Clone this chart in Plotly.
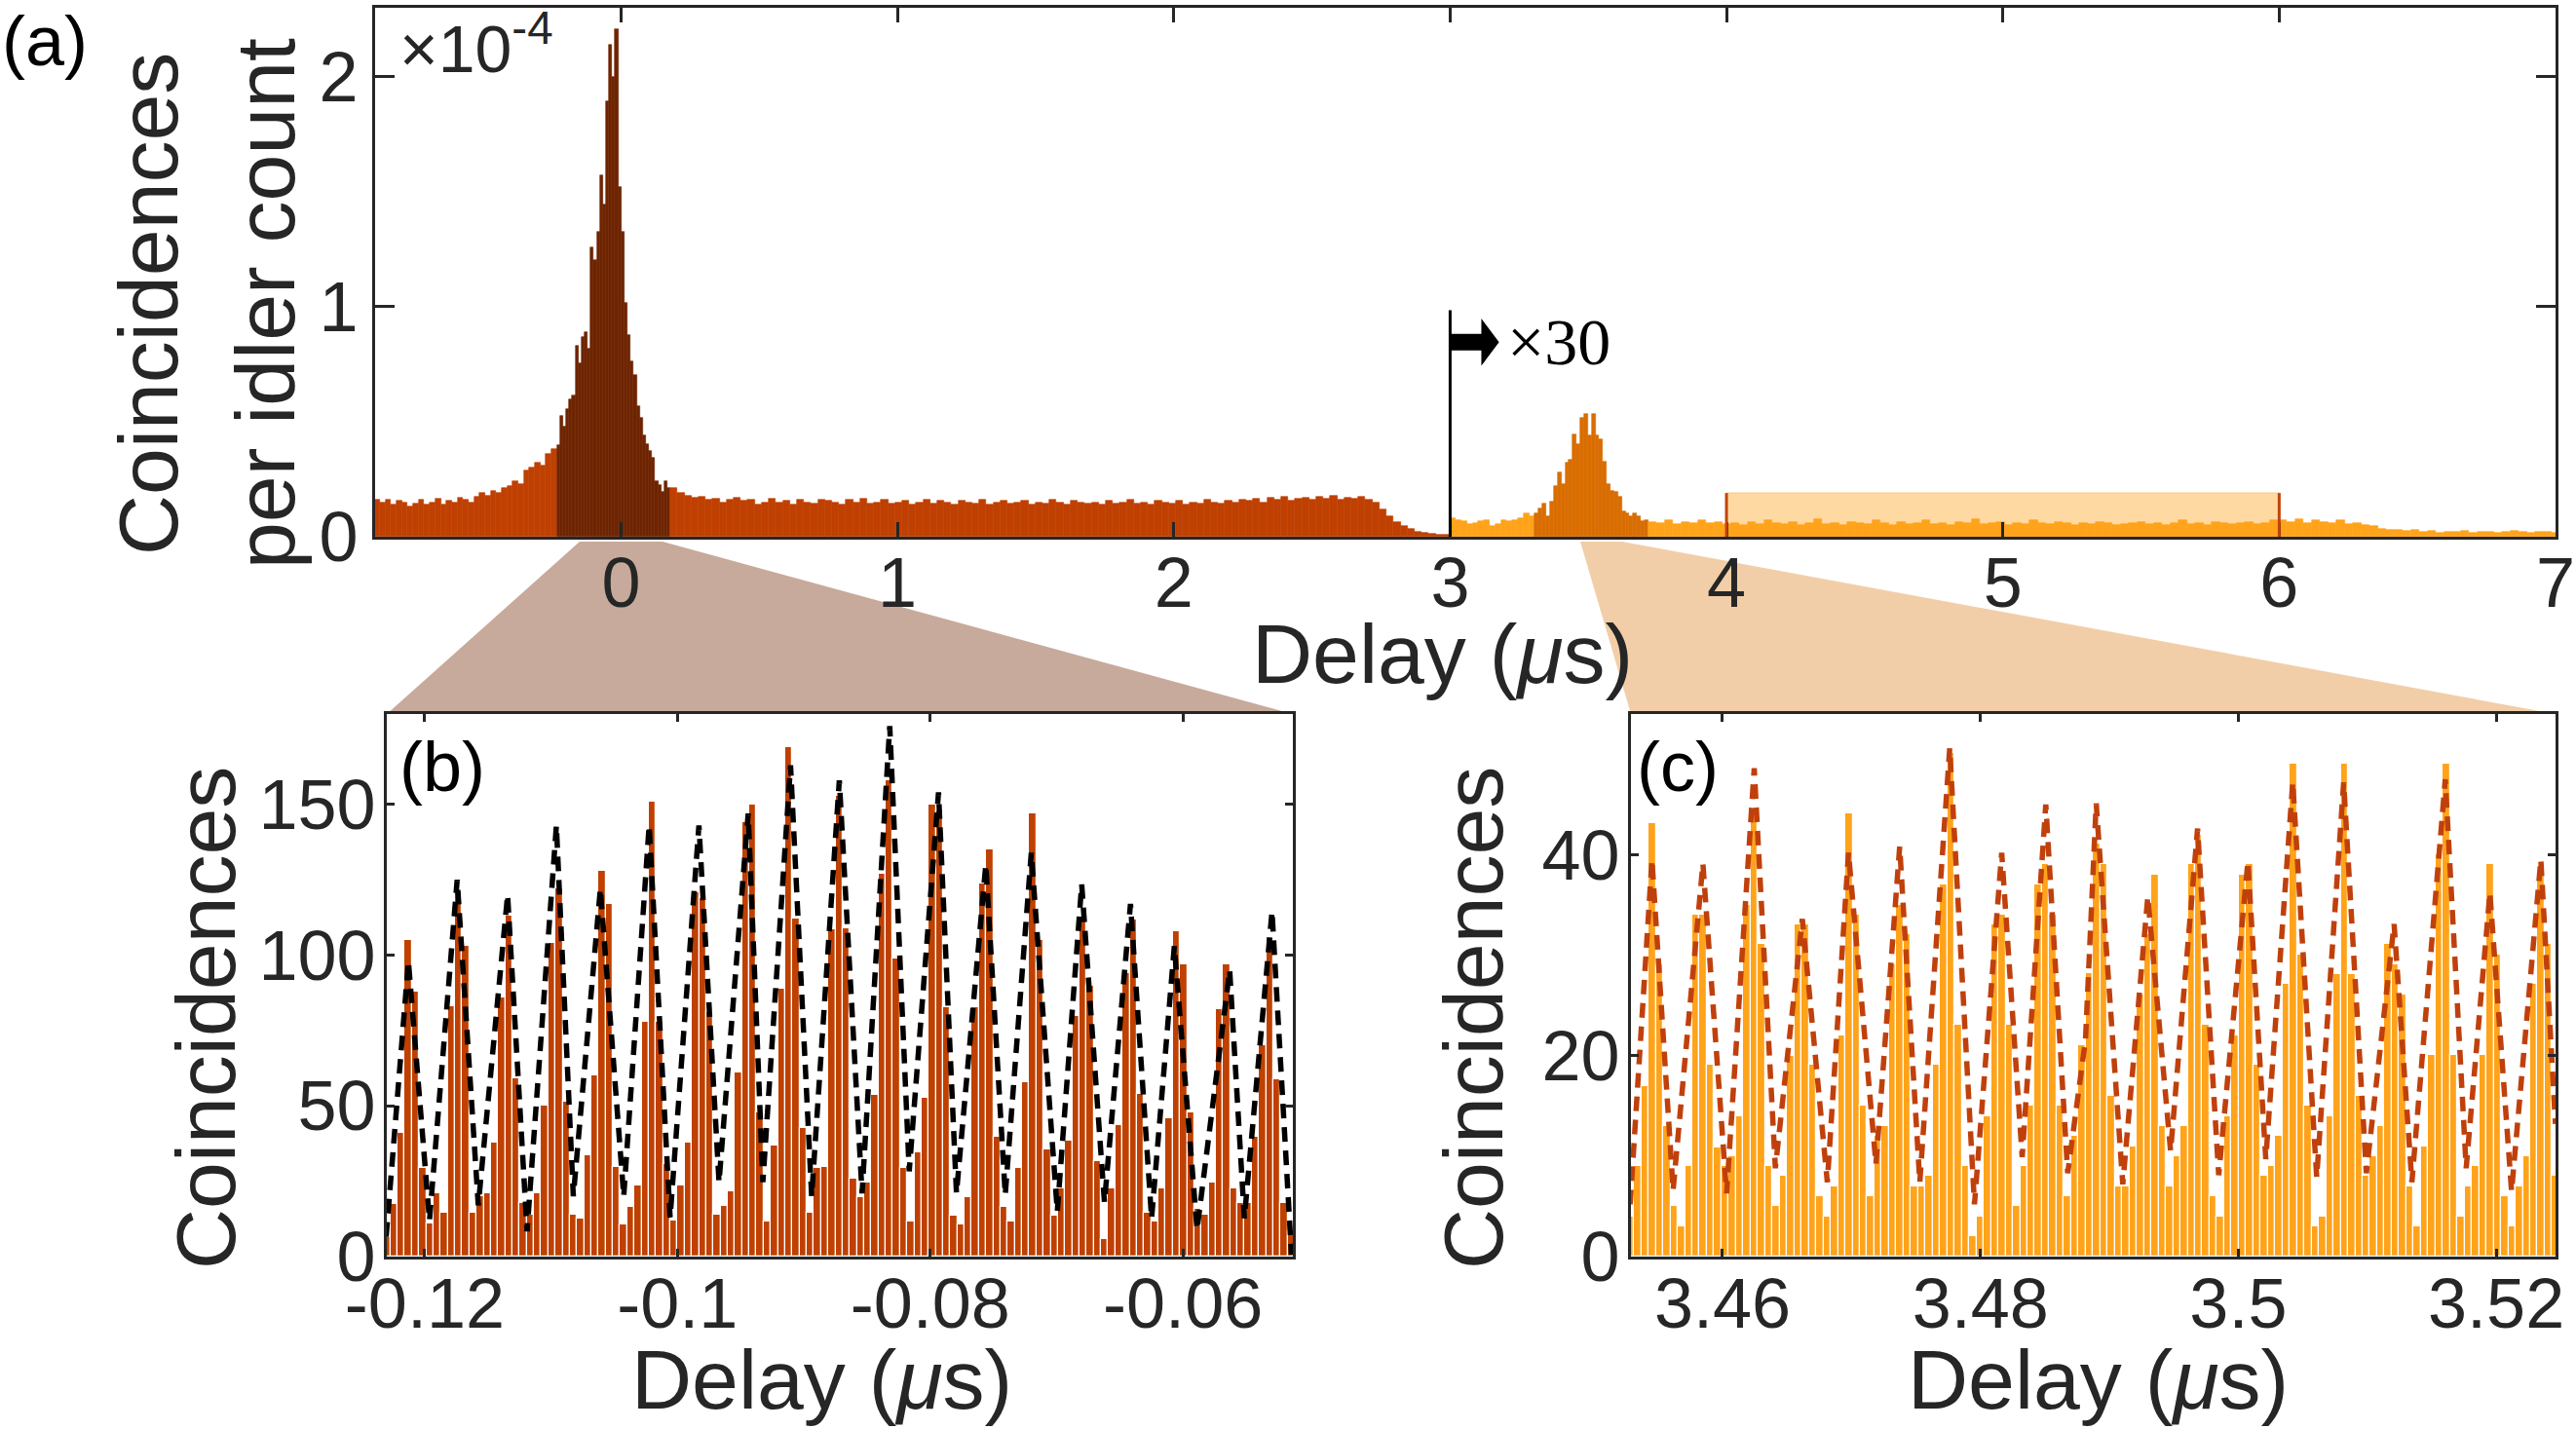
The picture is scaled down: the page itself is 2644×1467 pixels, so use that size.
import numpy as np
import plotly.graph_objects as go

# ---------------- DATA ----------------
# Panel (a): coincidences per idler count (units of 1e-4), histogram segments
a_left_start, a_left_bin = -0.892, 0.02
a_left_vals = [0.16, 0.15, 0.16, 0.14, 0.155, 0.15, 0.13, 0.145, 0.16, 0.14,
               0.15, 0.165, 0.14, 0.155, 0.15, 0.17, 0.16, 0.15, 0.175, 0.19,
               0.18, 0.20, 0.19, 0.21, 0.22, 0.24, 0.23, 0.29, 0.30, 0.32,
               0.31, 0.36, 0.38]

a_peak_start, a_peak_bin = -0.232, 0.0111
a_peak_vals = [0.397, 0.524, 0.479, 0.554, 0.599, 0.614, 0.831, 0.756, 0.868, 0.891,
               0.816, 1.257, 1.205, 1.325, 1.572, 1.445, 1.894, 2.141, 1.999, 2.208,
               1.519, 1.325, 1.018, 0.876, 0.763, 0.704, 0.569, 0.516, 0.442, 0.404,
               0.374, 0.344, 0.240, 0.225, 0.195, 0.240, 0.210]

a_right_start, a_right_bin = 0.179, 0.0254
a_right_vals = [0.21, 0.19, 0.18, 0.17, 0.175, 0.16, 0.165, 0.15, 0.16, 0.17,
                0.155, 0.16, 0.14, 0.15, 0.165, 0.15, 0.155, 0.14, 0.16, 0.15,
                0.145, 0.16, 0.155, 0.15, 0.14, 0.16, 0.15, 0.165, 0.145, 0.15,
                0.16, 0.145, 0.15, 0.155, 0.14, 0.15, 0.16, 0.145, 0.155, 0.15,
                0.14, 0.155, 0.15, 0.145, 0.16, 0.14, 0.15, 0.155, 0.145, 0.15,
                0.155, 0.14, 0.15, 0.145, 0.16, 0.15, 0.14, 0.155, 0.15, 0.145,
                0.15, 0.14, 0.155, 0.145, 0.15, 0.16, 0.145, 0.15, 0.14, 0.155,
                0.15, 0.145, 0.155, 0.14, 0.15, 0.145, 0.16, 0.15, 0.145, 0.155,
                0.15, 0.16, 0.155, 0.165, 0.15, 0.17, 0.16, 0.175, 0.155, 0.165,
                0.17, 0.16, 0.175, 0.165, 0.18, 0.16, 0.17, 0.165, 0.175, 0.16,
                0.15, 0.12, 0.09, 0.065, 0.045, 0.032, 0.022, 0.015, 0.012, 0.01, 0.008]

# after 3 us the signal is multiplied by 30
a_x30_left_start, a_x30_left_bin = 3.0, 0.02047
a_x30_left_vals = [0.081, 0.074, 0.067, 0.053, 0.060, 0.067, 0.074, 0.046, 0.053, 0.074,
                   0.067, 0.074, 0.081, 0.102, 0.088]

a_x30_peak_start, a_x30_peak_bin = 3.307, 0.01367
a_x30_peak_vals = [0.102, 0.123, 0.144, 0.088, 0.152, 0.222, 0.281, 0.229, 0.320, 0.334,
                   0.446, 0.404, 0.517, 0.535, 0.439, 0.535, 0.439, 0.425, 0.327, 0.229,
                   0.200, 0.194, 0.173, 0.109, 0.102, 0.088, 0.100, 0.088, 0.067, 0.074]

a_x30_right_start, a_x30_right_bin = 3.717, 0.03
a_x30_right_vals = [0.065, 0.06, 0.07, 0.055, 0.065, 0.06, 0.07, 0.06, 0.065,
                    0.055, 0.06, 0.05, 0.065, 0.055, 0.07, 0.06, 0.055, 0.065, 0.05,
                    0.06, 0.075, 0.055, 0.06, 0.05, 0.065, 0.06, 0.055, 0.07, 0.06,
                    0.05, 0.065, 0.055, 0.06, 0.07, 0.055, 0.06, 0.05, 0.065, 0.06,
                    0.075, 0.055, 0.06, 0.065, 0.05, 0.06, 0.055, 0.07, 0.06, 0.055,
                    0.065, 0.06, 0.05, 0.06, 0.055, 0.065, 0.06, 0.05, 0.055, 0.06,
                    0.065, 0.055, 0.06, 0.05, 0.06, 0.07, 0.055, 0.06, 0.05, 0.065,
                    0.06, 0.055, 0.06, 0.065, 0.055, 0.06, 0.07,
                    0.07, 0.065, 0.075, 0.06, 0.07, 0.065, 0.06, 0.07, 0.055, 0.06, 0.05, 0.045,
                    0.035, 0.03, 0.028, 0.025, 0.03,
                    0.02, 0.025, 0.018, 0.022, 0.02, 0.025, 0.018, 0.02, 0.022, 0.018,
                    0.02, 0.025, 0.02, 0.018, 0.022, 0.02, 0.018]

a_window = [4.0, 6.0]       # highlighted background window (us)
a_window_height = 0.19
a_scale_start = 3.0
a_scale_marker_top = 0.985

# Panel (b): coincidences near zero delay
b_start, b_bin = -0.12328, 0.000568
b_counts = [6.6,
            17.5, 41, 105, 88, 29.5, 11, 21, 14.7, 83, 121,
            103, 14.7, 20, 21, 37.7, 86, 113, 59, 17.7, 13.9,
            21, 50, 104, 122, 51.4, 13.9, 12.7, 33.7, 60, 128,
            117, 29.8, 10.8, 16.6, 23.7, 78, 151, 78, 30.7, 11.8,
            23.7, 37.7, 121, 119, 81, 13.9, 16.9, 21.7, 61, 144,
            150, 47.8, 11.7, 36.7, 89, 169, 112, 42.8, 14.7, 29.5,
            29.8, 108.6, 153, 109,
            25.7, 19.6, 24.7, 53.6, 127, 158, 98.8, 29.5, 11.7, 34.6,
            52.7, 150, 148, 82.8, 13.6, 10.6, 19.6, 82.8, 123.7, 135,
            39.8, 16.5, 11.7, 29.5, 57.8, 147, 105, 35.5, 13.6, 22.5,
            38.6, 79.8, 111.7, 89.8, 31.6, 5.7, 22.5, 43.7, 94, 111.7,
            53.9, 14.5, 11.7, 22.5, 45.8, 107.8, 97, 47.8, 15.7, 13.9,
            24.7, 82, 97, 22.5, 17.7, 17.7, 39.8, 70, 106, 58.8,
            17.7, 8.4]
b_fit_x = [-0.12305, -0.12129, -0.11962, -0.11743, -0.11576, -0.11344, -0.11190, -0.10958,
           -0.10824, -0.10610, -0.10425, -0.10224, -0.10058, -0.09830, -0.09671, -0.09440,
           -0.09324, -0.09105, -0.08938, -0.08719, -0.08539, -0.08320, -0.08166, -0.07934,
           -0.07792, -0.07560, -0.07406, -0.07200, -0.06994, -0.06801, -0.06621, -0.06415,
           -0.06248, -0.06068, -0.05888, -0.05630, -0.05514, -0.05295, -0.05141]
b_fit_y = [6.6, 98, 12, 125, 17, 120, 8.4, 143,
           20, 122, 20, 143, 13, 143, 24.7, 147,
           24.7, 163, 20, 158, 21, 176, 28.3, 154,
           21, 130, 20.5, 134, 15, 123.5, 18, 117,
           12.7, 103, 9, 95, 12.7, 114.5, 0.6]

# Panel (c): coincidences near 3.5 us delay
c_start, c_bin = 3.452575, 0.000565
c_counts = [4.0,
            9.0, 17.0, 43.1, 29.1, 13.0, 5.0, 3.0, 9.0, 34.0, 34.0,
            19.1, 10.9, 9.0, 10.0, 14.0, 35.0, 44.1, 31.1, 9.0, 5.0,
            8.0, 20.0, 33.1, 33.1, 19.1, 6.0, 4.0, 7.0, 22.0, 44.1,
            34.0, 15.0, 6.0, 12.0, 13.0, 29.1, 35.0, 32.1, 7.0, 7.0,
            8.0, 19.1, 37.0, 50.1, 23.1, 9.0, 2.0, 4.0, 14.0, 33.1,
            34.0, 23.1, 5.0, 9.0, 15.0, 37.0, 39.1, 34.0, 15.0, 6.0,
            12.0, 21.0,
            28.2, 41.1, 39.1, 16.0, 7.0, 7.0, 11.0, 26.1, 32.1, 38.0,
            13.0, 7.0, 10.0, 13.0, 39.1, 42.0, 23.1, 6.0, 4.0, 14.0,
            22.0, 38.0, 39.1, 19.1, 8.0, 9.0, 12.0, 27.1, 49.1, 30.1,
            15.0, 3.0, 4.0, 14.0, 28.1, 49.1, 28.1, 16.0, 8.0, 10.0,
            13.0, 31.1, 29.1, 26.1, 7.0, 3.0, 11.0, 20.1, 40.0, 49.1,
            20.1, 4.0, 7.0, 9.0, 20.1, 39.1, 30.1, 6.0, 3.0, 7.0,
            10.0, 27.1, 38.0, 31.1,
            8.0]
c_fit_x = [3.45284, 3.45453, 3.45617, 3.45848, 3.46032, 3.46246, 3.46410, 3.46619,
           3.46813, 3.46977, 3.47190, 3.47374, 3.47530, 3.47762, 3.47954, 3.48165,
           3.48324, 3.48507, 3.48677, 3.48815, 3.48898, 3.49104, 3.49298, 3.49475,
           3.49684, 3.49848, 3.50074, 3.50213, 3.50422, 3.50608, 3.50817, 3.50993,
           3.51208, 3.51346, 3.51605, 3.51767, 3.51951, 3.52119, 3.52346, 3.52459]
c_fit_y = [5.2, 39.5, 6.6, 39.1, 6.3, 48.6, 8.8, 33.6,
           7.4, 40.2, 9.2, 40.8, 7.4, 50.6, 5.2, 40.2,
           9.9, 45.0, 8.3, 21.6, 45.1, 7.2, 35.8, 10.5,
           42.6, 8.1, 39.3, 9.7, 47.2, 7.9, 47.2, 8.3,
           33.1, 7.4, 47.5, 8.8, 36.2, 6.5, 39.5, 13.2]

a_xticks = [0, 1, 2, 3, 4, 5, 6, 7]
a_yticks = [0, 1, 2]
b_xticks = [-0.12, -0.1, -0.08, -0.06]
b_xticktext = ["-0.12", "-0.1", "-0.08", "-0.06"]
b_yticks = [0, 50, 100, 150]
c_xticks = [3.46, 3.48, 3.5, 3.52]
c_xticktext = ["3.46", "3.48", "3.5", "3.52"]
c_yticks = [0, 20, 40]

# ---------------- STYLE ----------------
W, H = 2644, 1467
FONT = "Liberation Sans, Arial, sans-serif"
TICK_FONT = "Liberation Sans Narrow, Arial Narrow, Liberation Sans, sans-serif"
AX = "#262626"
BROWN = "#BF4000"
BROWN_DARK = "#6E2400"
ORANGE = "#FFA31A"
ORANGE_DARK = "#D96D00"
FIT_C = "#C0400C"
TICK_FS = 72
TITLE_FS = 86


def px(x):
    return x / W


def py(y):
    return 1 - y / H


def centers(start, binw, n):
    return start + binw * (np.arange(n) + 0.5)


fig = go.Figure()


def add_hist(start, binw, vals, color, xa, ya, line_color=None, line_w=0.6):
    fig.add_trace(go.Bar(
        x=centers(start, binw, len(vals)), y=vals, width=binw,
        marker=dict(color=color, line=dict(color=line_color or color, width=line_w)),
        xaxis=xa, yaxis=ya, showlegend=False, hoverinfo="skip"))


# panel (a)
add_hist(a_left_start, a_left_bin, a_left_vals, BROWN, "x", "y")
add_hist(a_peak_start, a_peak_bin, a_peak_vals, BROWN_DARK, "x", "y")
add_hist(a_right_start, a_right_bin, a_right_vals, BROWN, "x", "y")
add_hist(a_x30_left_start, a_x30_left_bin, a_x30_left_vals, ORANGE, "x", "y")
add_hist(a_x30_peak_start, a_x30_peak_bin, a_x30_peak_vals, ORANGE_DARK, "x", "y")
add_hist(a_x30_right_start, a_x30_right_bin, a_x30_right_vals, ORANGE, "x", "y")

# panel (b)
add_hist(b_start, b_bin, b_counts, BROWN, "x2", "y2", line_color="white", line_w=1.2)
fig.add_trace(go.Scatter(x=b_fit_x, y=b_fit_y, mode="lines",
                         line=dict(color="black", width=5.5, dash="15px,9px"),
                         xaxis="x2", yaxis="y2", showlegend=False, hoverinfo="skip"))

# panel (c)
add_hist(c_start, c_bin, c_counts, ORANGE, "x3", "y3", line_color="white", line_w=1.2)
fig.add_trace(go.Scatter(x=c_fit_x, y=c_fit_y, mode="lines",
                         line=dict(color=FIT_C, width=5.5, dash="15px,9px"),
                         xaxis="x3", yaxis="y3", showlegend=False, hoverinfo="skip"))


def axis(domain, rng, tickvals, ticktext=None, ticklen=10, anchor=None, standoff=0):
    d = dict(domain=domain, range=rng, tickvals=tickvals, automargin=False,
             ticks="inside", ticklen=ticklen, tickwidth=3, tickcolor=AX,
             showline=True, linewidth=3, linecolor=AX, mirror="ticks",
             showgrid=False, zeroline=False, fixedrange=True,
             ticklabelstandoff=standoff,
             tickfont=dict(family=TICK_FONT, size=TICK_FS, color=AX), anchor=anchor)
    if ticktext is not None:
        d["ticktext"] = ticktext
    return d


a_xdom = [px(385), px(2623)]
a_ydom = [py(551), py(8)]
b_xdom = [px(397), px(1327)]
c_xdom = [px(1674), px(2623)]
bc_ydom = [py(1290), py(733)]

fig.update_layout(
    width=W, height=H, margin=dict(l=0, r=0, t=0, b=0, autoexpand=False),
    paper_bgcolor="white", plot_bgcolor="rgba(0,0,0,0)",
    barmode="overlay", bargap=0,
    xaxis=axis(a_xdom, [-0.89, 7.0], a_xticks, [str(v) for v in a_xticks], 15, "y", -17),
    yaxis=axis(a_ydom, [0, 2.3], a_yticks, [str(v) for v in a_yticks], 20, "x", 0),
    xaxis2=axis(b_xdom, [-0.1230, -0.0513], b_xticks, b_xticktext, 8, "y2", -16),
    yaxis2=axis(bc_ydom, [0, 180], b_yticks, [str(v) for v in b_yticks], 8, "x2", -6),
    xaxis3=axis(c_xdom, [3.4529, 3.5246], c_xticks, c_xticktext, 8, "y3", -16),
    yaxis3=axis(bc_ydom, [0, 54], c_yticks, [str(v) for v in c_yticks], 8, "x3", -6),
)

shapes = []
# zoom trapezoids
shapes.append(dict(type="path", xref="paper", yref="paper", layer="below",
                   path=f"M {px(595)},{py(556)} L {px(680)},{py(556)} L {px(1327)},{py(733)} L {px(397)},{py(733)} Z",
                   fillcolor="#C7AA9B", line=dict(width=0)))
shapes.append(dict(type="path", xref="paper", yref="paper", layer="below",
                   path=f"M {px(1622)},{py(556)} L {px(1665)},{py(556)} L {px(2623)},{py(733)} L {px(1674)},{py(733)} Z",
                   fillcolor="#F2CEA8", line=dict(width=0)))
# highlighted window in (a)
shapes.append(dict(type="rect", xref="x", yref="y", layer="below",
                   x0=a_window[0], x1=a_window[1], y0=0, y1=a_window_height,
                   fillcolor="#FFD9A2", line=dict(color="#FFCF8F", width=1.5)))
for xv in a_window:
    shapes.append(dict(type="line", xref="x", yref="y", layer="above",
                       x0=xv, x1=xv, y0=0, y1=a_window_height,
                       line=dict(color="#C0440A", width=3)))
# x30 marker line + arrow
shapes.append(dict(type="line", xref="x", yref="y", layer="above",
                   x0=a_scale_start, x1=a_scale_start, y0=0, y1=a_scale_marker_top,
                   line=dict(color="black", width=3)))
ay = 0.846
shapes.append(dict(type="path", xref="x", yref="y", layer="above",
                   path=(f"M {a_scale_start},{ay-0.036} L {a_scale_start+0.113},{ay-0.036} "
                         f"L {a_scale_start+0.113},{ay-0.103} L {a_scale_start+0.177},{ay} "
                         f"L {a_scale_start+0.113},{ay+0.103} L {a_scale_start+0.113},{ay+0.036} "
                         f"L {a_scale_start},{ay+0.036} Z"),
                   fillcolor="black", line=dict(width=0)))
fig.update_layout(shapes=shapes)

ann = []


def text(x, y, s, size, xanchor="center", yanchor="middle", angle=0, family=FONT, xref="paper", yref="paper", color=AX):
    ann.append(dict(x=x, y=y, xref=xref, yref=yref, text=s, showarrow=False,
                    xanchor=xanchor, yanchor=yanchor, textangle=angle,
                    font=dict(family=family, size=size, color=color)))


text(0, py(0), "(a)", 72, "left", "top", color="black")
text(px(408), py(745), "(b)", 72, "left", "top", color="black")
text(px(1678), py(745), "(c)", 72, "left", "top", color="black")
text(px(408), py(0), "×10<sup>-4</sup>", 68, "left", "top")
text(3.2, ay, "×30", 68, "left", "middle", family="Liberation Serif, DejaVu Serif, serif",
     xref="x", yref="y", color="black")
# axis titles
text(px(152), py(312), "Coincidences", TITLE_FS, angle=-90)
text(px(272), py(312), "per idler count", TITLE_FS, angle=-90)
text(px(1480), py(671), "Delay (<i>μ</i>s)", TITLE_FS)
text(px(843), py(1416), "Delay (<i>μ</i>s)", TITLE_FS)
text(px(2153), py(1416), "Delay (<i>μ</i>s)", TITLE_FS)
text(px(211), py(1045), "Coincidences", TITLE_FS, angle=-90)
text(px(1512), py(1045), "Coincidences", TITLE_FS, angle=-90)
fig.update_layout(annotations=ann)

fig.write_html("out.html")
